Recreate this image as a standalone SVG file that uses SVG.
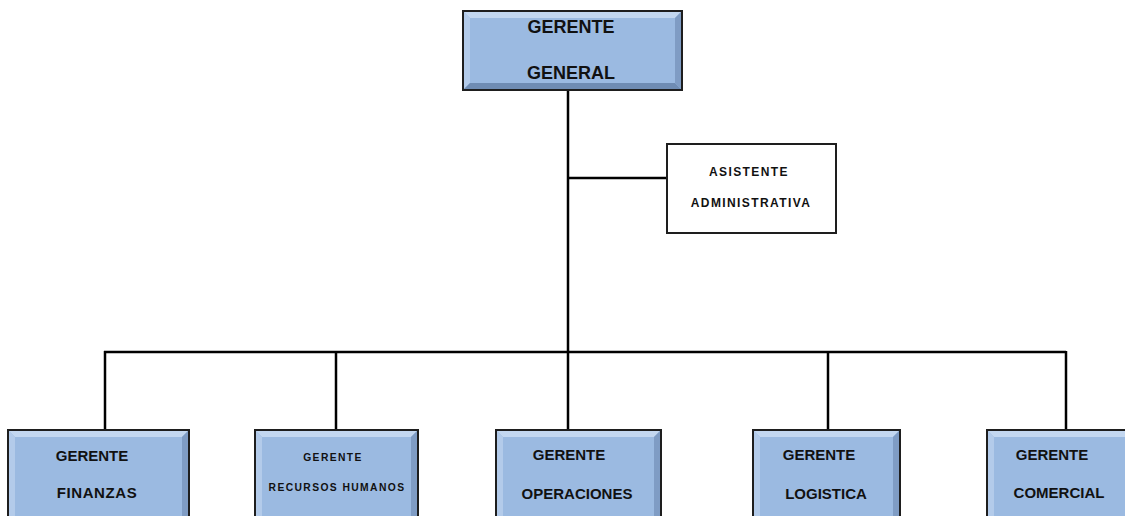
<svg xmlns="http://www.w3.org/2000/svg" width="1125" height="516" viewBox="0 0 1125 516">
<style>
.box{fill:#9bbae1;stroke:#1e1e1e;stroke-width:2}
.bt{fill:#c3d7f0}
.bl{fill:#b3cbea}
.bb{fill:#6f8cb3}
.br{fill:#7f9cc4}
.wbox{fill:#fff;stroke:#1e1e1e;stroke-width:2}
.t{font-family:"Liberation Sans",Arial,sans-serif;font-weight:bold;fill:#111;text-anchor:middle}
.big{font-size:18px}
.mid{font-size:15px}
.sm{font-size:12px;letter-spacing:1.4px}
.xs{font-size:10.3px;letter-spacing:1.4px}
.ln{stroke:#000;stroke-width:2.5;fill:none}
</style>
<g id="connectors">
<line class="ln" x1="568" y1="90" x2="568" y2="430"/>
<line class="ln" x1="568" y1="178" x2="667" y2="178"/>
<line class="ln" x1="104" y1="352" x2="1066" y2="352"/>
<line class="ln" x1="105" y1="351" x2="105" y2="430"/>
<line class="ln" x1="336" y1="352" x2="336" y2="430"/>
<line class="ln" x1="828" y1="352" x2="828" y2="430"/>
<line class="ln" x1="1066" y1="351" x2="1066" y2="430"/>
</g>
<g id="gerente-general">
<rect class="box" x="463" y="11" width="219" height="79"/>
<polygon class="bt" points="464,12 681,12 675,18 470,18"/>
<polygon class="bl" points="464,12 470,18 470,83 464,89"/>
<polygon class="bb" points="464,89 470,83 675,83 681,89"/>
<polygon class="br" points="681,12 681,89 675,83 675,18"/>
<text class="t big" x="571" y="33">GERENTE</text>
<text class="t big" x="571" y="79">GENERAL</text>
</g>
<g id="asistente-administrativa">
<rect class="wbox" x="667" y="144" width="169" height="89"/>
<text class="t sm" x="749" y="176">ASISTENTE</text>
<text class="t sm" x="751" y="207">ADMINISTRATIVA</text>
</g>
<g id="gerente-finanzas">
<rect class="box" x="8" y="430" width="181" height="90"/>
<polygon class="bt" points="9,431 188,431 182,437 15,437"/>
<polygon class="bl" points="9,431 15,437 15,520 9,520"/>
<polygon class="br" points="188,431 188,520 182,520 182,437"/>
<text class="t mid" x="92" y="461">GERENTE</text>
<text class="t mid" x="97" y="498" letter-spacing="0.6">FINANZAS</text>
</g>
<g id="gerente-recursos-humanos">
<rect class="box" x="255" y="430" width="163" height="90"/>
<polygon class="bt" points="256,431 417,431 411,437 262,437"/>
<polygon class="bl" points="256,431 262,437 262,520 256,520"/>
<polygon class="br" points="417,431 417,520 411,520 411,437"/>
<text class="t xs" x="333" y="461">GERENTE</text>
<text class="t xs" x="337" y="491">RECURSOS  HUMANOS</text>
</g>
<g id="gerente-operaciones">
<rect class="box" x="496" y="430" width="165" height="90"/>
<polygon class="bt" points="497,431 660,431 654,437 503,437"/>
<polygon class="bl" points="497,431 503,437 503,520 497,520"/>
<polygon class="br" points="660,431 660,520 654,520 654,437"/>
<text class="t mid" x="569" y="460">GERENTE</text>
<text class="t mid" x="577" y="499">OPERACIONES</text>
</g>
<g id="gerente-logistica">
<rect class="box" x="753" y="430" width="147" height="90"/>
<polygon class="bt" points="754,431 899,431 893,437 760,437"/>
<polygon class="bl" points="754,431 760,437 760,520 754,520"/>
<polygon class="br" points="899,431 899,520 893,520 893,437"/>
<text class="t mid" x="819" y="460">GERENTE</text>
<text class="t mid" x="826" y="499">LOGISTICA</text>
</g>
<g id="gerente-comercial">
<rect class="box" x="987" y="430" width="145" height="90"/>
<polygon class="bt" points="988,431 1131,431 1125,437 994,437"/>
<polygon class="bl" points="988,431 994,437 994,520 988,520"/>
<text class="t mid" x="1052" y="460">GERENTE</text>
<text class="t mid" x="1059" y="498">COMERCIAL</text>
</g>
</svg>
